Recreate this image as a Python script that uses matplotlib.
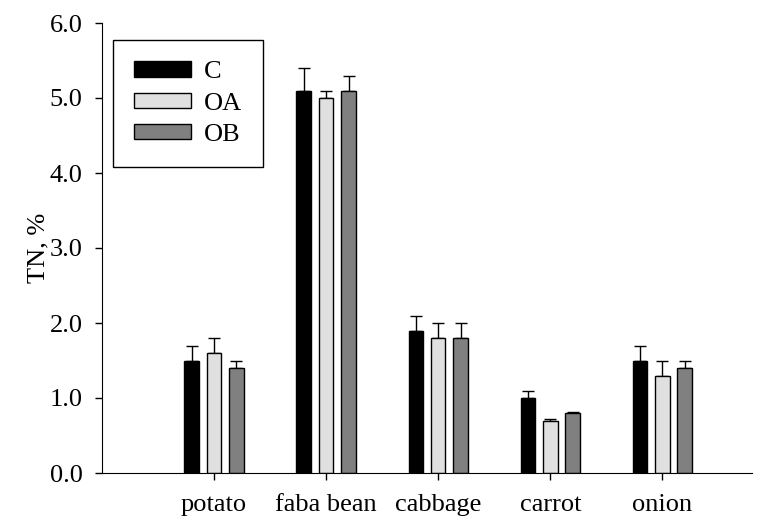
import matplotlib
matplotlib.use('Agg')
import matplotlib.pyplot as plt
import numpy as np

plt.rcParams['font.family'] = ['Liberation Serif', 'DejaVu Serif']

crops = ['potato', 'faba bean', 'cabbage', 'carrot', 'onion']
c_vals = [1.5, 5.1, 1.9, 1.0, 1.5]
c_err = [0.2, 0.3, 0.2, 0.1, 0.2]
oa_vals = [1.6, 5.0, 1.8, 0.7, 1.3]
oa_err = [0.2, 0.1, 0.2, 0.02, 0.2]
ob_vals = [1.4, 5.1, 1.8, 0.8, 1.4]
ob_err = [0.1, 0.2, 0.2, 0.02, 0.1]

fig = plt.figure(figsize=(7.64, 5.17), dpi=100)
ax = fig.add_axes([102 / 764, 44 / 517, 650 / 764, 450 / 517])

x = np.arange(len(crops))
w = 0.13
off = 0.2
series = [('C', c_vals, c_err, 'black'),
          ('OA', oa_vals, oa_err, '#e0e0e0'),
          ('OB', ob_vals, ob_err, '#808080')]
for k, (name, vals, err, col) in enumerate(series):
    ax.bar(x + (k - 1) * off, vals, w, color=col, edgecolor='black',
           linewidth=1.0, label=name, zorder=2)
    ax.errorbar(x + (k - 1) * off, vals, yerr=[np.zeros(len(err)), err],
                fmt='none', ecolor='black', elinewidth=1.0, capsize=4.5,
                capthick=1.0, zorder=1)

ax.set_xlim(-1.0, 4.8)
ax.set_ylim(0, 6)
ax.set_yticks(np.arange(0, 6.1, 1.0))
ax.set_yticklabels(['%.1f' % v for v in np.arange(0, 6.1, 1.0)])
ax.set_xticks(x)
ax.set_xticklabels(crops)
ax.spines['top'].set_visible(False)
ax.spines['right'].set_visible(False)
ax.tick_params(axis='both', labelsize=19, direction='out', length=5, width=1)
ax.tick_params(axis='y', pad=9)
ax.tick_params(axis='x', pad=10)
ax.set_ylabel('TN, %', fontsize=19, labelpad=0)

leg = ax.legend(loc='upper left', bbox_to_anchor=(0.017, 0.962), fontsize=19,
                fancybox=False, edgecolor='black', framealpha=1,
                borderaxespad=0, handlelength=2.15, handleheight=0.53,
                borderpad=0.8, labelspacing=0.35, handletextpad=0.5)
leg.get_frame().set_linewidth(1.0)

fig.savefig('out.png', dpi=100)
